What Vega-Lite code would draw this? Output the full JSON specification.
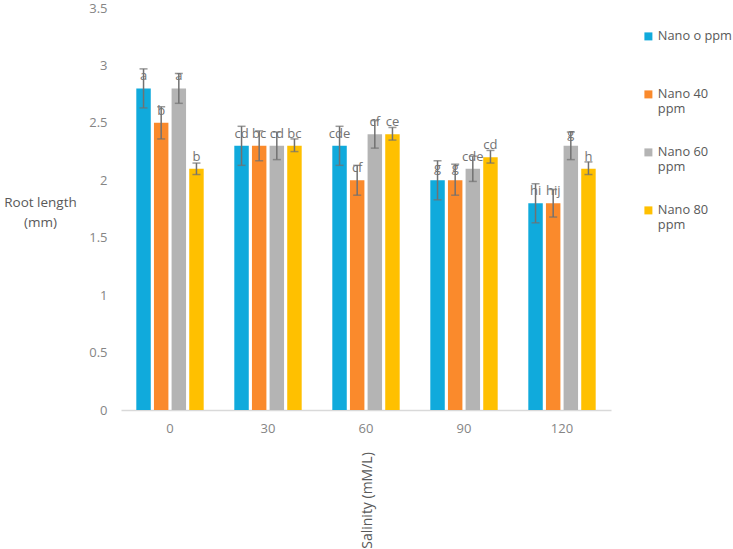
{
  "$schema": "https://vega.github.io/schema/vega-lite/v6.json",
  "autosize": "none",
  "width": 490,
  "height": 402,
  "padding": {"left": 121, "top": 8, "right": 122, "bottom": 139},
  "background": "white",
  "config": {
    "font": "Open Sans",
    "view": {"stroke": null},
    "axis": {"labelColor": "#858585", "titleColor": "#595959", "labelFontSize": 13, "titleFontSize": 13.5, "titleFontWeight": "normal", "labelFont": "Open Sans", "titleFont": "Open Sans"},
    "legend": {"labelColor": "#595959", "labelFontSize": 12.8, "labelFont": "Open Sans"}
  },
  "data": {"values": [
    {"salinity": "0", "nano": "Nano o ppm", "value": 2.8, "low": 2.63, "high": 2.97, "label": "a"},
    {"salinity": "0", "nano": "Nano 40 ppm", "value": 2.5, "low": 2.36, "high": 2.64, "label": "b"},
    {"salinity": "0", "nano": "Nano 60 ppm", "value": 2.8, "low": 2.67, "high": 2.93, "label": "a"},
    {"salinity": "0", "nano": "Nano 80 ppm", "value": 2.1, "low": 2.05, "high": 2.15, "label": "b"},
    {"salinity": "30", "nano": "Nano o ppm", "value": 2.3, "low": 2.13, "high": 2.47, "label": "cd"},
    {"salinity": "30", "nano": "Nano 40 ppm", "value": 2.3, "low": 2.17, "high": 2.43, "label": "bc"},
    {"salinity": "30", "nano": "Nano 60 ppm", "value": 2.3, "low": 2.18, "high": 2.42, "label": "cd"},
    {"salinity": "30", "nano": "Nano 80 ppm", "value": 2.3, "low": 2.25, "high": 2.36, "label": "bc"},
    {"salinity": "60", "nano": "Nano o ppm", "value": 2.3, "low": 2.13, "high": 2.47, "label": "cde"},
    {"salinity": "60", "nano": "Nano 40 ppm", "value": 2.0, "low": 1.87, "high": 2.13, "label": "cf"},
    {"salinity": "60", "nano": "Nano 60 ppm", "value": 2.4, "low": 2.28, "high": 2.52, "label": "cf"},
    {"salinity": "60", "nano": "Nano 80 ppm", "value": 2.4, "low": 2.35, "high": 2.46, "label": "ce"},
    {"salinity": "90", "nano": "Nano o ppm", "value": 2.0, "low": 1.83, "high": 2.17, "label": "g"},
    {"salinity": "90", "nano": "Nano 40 ppm", "value": 2.0, "low": 1.87, "high": 2.14, "label": "g"},
    {"salinity": "90", "nano": "Nano 60 ppm", "value": 2.1, "low": 1.99, "high": 2.21, "label": "cde"},
    {"salinity": "90", "nano": "Nano 80 ppm", "value": 2.2, "low": 2.15, "high": 2.26, "label": "cd"},
    {"salinity": "120", "nano": "Nano o ppm", "value": 1.8, "low": 1.63, "high": 1.97, "label": "hi"},
    {"salinity": "120", "nano": "Nano 40 ppm", "value": 1.8, "low": 1.68, "high": 1.92, "label": "hij"},
    {"salinity": "120", "nano": "Nano 60 ppm", "value": 2.3, "low": 2.18, "high": 2.42, "label": "g"},
    {"salinity": "120", "nano": "Nano 80 ppm", "value": 2.1, "low": 2.05, "high": 2.16, "label": "h"}
  ]},
  "encoding": {
    "x": {
      "field": "salinity", "type": "ordinal", "sort": ["0", "30", "60", "90", "120"],
      "scale": {"paddingInner": 0.28, "paddingOuter": 0.14},
      "axis": {
        "title": "Salinity (mM/L)", "labelAngle": 0, "ticks": false, "domainColor": "#D9D9D9", "domainWidth": 1.5, "labelPadding": 12,
        "titleAngle": 270, "titleX": 246, "titleY": 90, "titleFontSize": 14, "titleAlign": "center", "titleBaseline": "middle"
      }
    },
    "xOffset": {
      "field": "nano", "type": "nominal",
      "sort": ["Nano o ppm", "Nano 40 ppm", "Nano 60 ppm", "Nano 80 ppm"],
      "scale": {"paddingInner": 0.18, "paddingOuter": 0.09}
    }
  },
  "layer": [
    {
      "mark": {"type": "bar"},
      "encoding": {
        "y": {
          "field": "value", "type": "quantitative",
          "scale": {"domain": [0, 3.5], "nice": false},
          "axis": {
            "values": [0, 0.5, 1, 1.5, 2, 2.5, 3, 3.5], "format": "~g", "grid": false, "domain": false, "ticks": false, "labelPadding": 14,
            "title": ["Root length", "(mm)"], "titleAngle": 0, "titleX": -81, "titleY": 194, "titleAlign": "center", "titleBaseline": "middle", "titleLineHeight": 20
          }
        },
        "color": {
          "field": "nano", "type": "nominal",
          "sort": ["Nano o ppm", "Nano 40 ppm", "Nano 60 ppm", "Nano 80 ppm"],
          "scale": {"domain": ["Nano o ppm", "Nano 40 ppm", "Nano 60 ppm", "Nano 80 ppm"], "range": ["#10AADC", "#FA8A2C", "#B4B4B4", "#FFC000"]},
          "legend": {
            "title": null, "orient": "none", "legendX": 521, "legendY": 22,
            "symbolType": "square", "symbolSize": 64, "symbolStrokeWidth": 0, "symbolOpacity": 1,
            "rowPadding": 30, "labelOffset": 3,
            "labelExpr": "datum.label == 'Nano o ppm' ? [datum.label, ' '] : [slice(datum.label, 0, 7), 'ppm']"
          }
        }
      }
    },
    {
      "mark": {"type": "rule", "color": "#717171", "strokeWidth": 1.5},
      "encoding": {
        "y": {"field": "low", "type": "quantitative"},
        "y2": {"field": "high"}
      }
    },
    {
      "mark": {"type": "tick", "color": "#717171", "thickness": 1.5, "size": 8, "orient": "horizontal"},
      "encoding": {"y": {"field": "low", "type": "quantitative"}}
    },
    {
      "mark": {"type": "tick", "color": "#717171", "thickness": 1.5, "size": 8, "orient": "horizontal"},
      "encoding": {"y": {"field": "high", "type": "quantitative"}}
    },
    {
      "mark": {"type": "text", "color": "#737373", "fontSize": 13, "baseline": "alphabetic", "dy": -8, "font": "Open Sans"},
      "encoding": {
        "y": {"field": "value", "type": "quantitative"},
        "text": {"field": "label"}
      }
    }
  ]
}
